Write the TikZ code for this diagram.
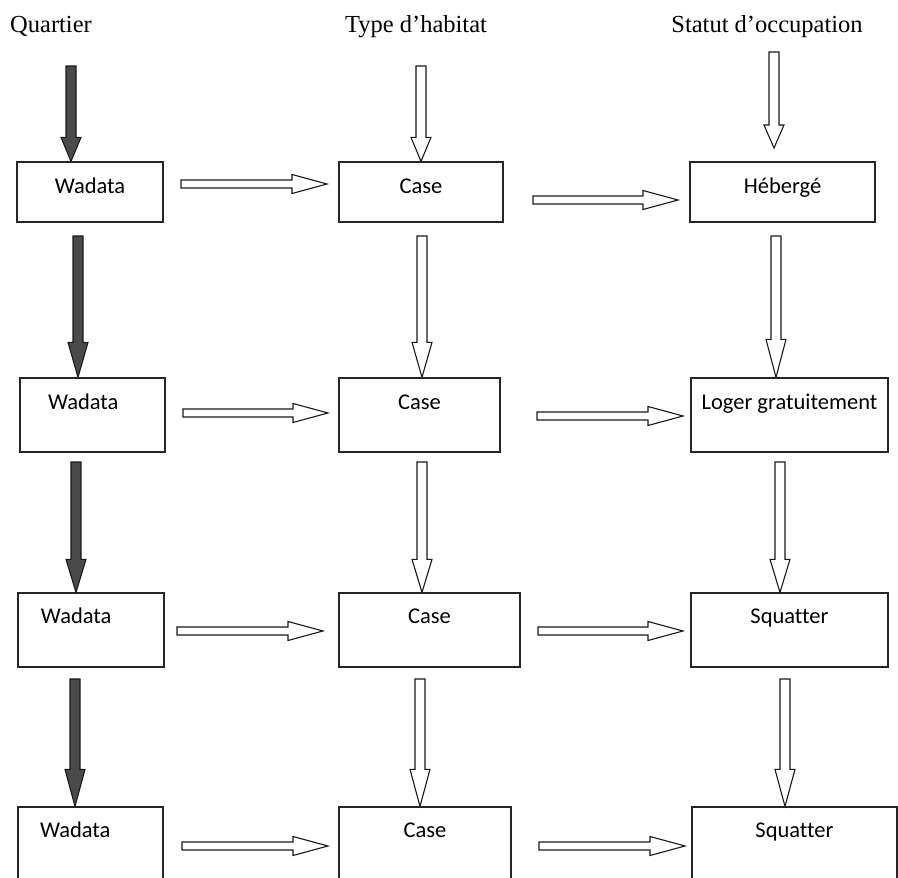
\documentclass[tikz,border=0pt]{standalone}
\usepackage{fontspec}
\setmainfont{Liberation Serif}
\newfontfamily\boxfont[Ligatures=NoCommon]{Carlito}
\usetikzlibrary{calc}
\definecolor{darkfill}{HTML}{4A4A4A}

\begin{document}
\begin{tikzpicture}[x=1pt, y=-1pt,
	box/.style={draw=black!85, line width=1.3pt, inner sep=0pt, font=\boxfont\fontsize{22.5}{27}\selectfont},
	rowa/.style={text height=31pt, text depth=29pt},
	rowb/.style={text height=31pt, text depth=43pt},
	rowc/.style={text height=30pt, text depth=44pt},
	lft/.style={align=left, inner xsep=#1},
	head/.style={font=\fontsize{24.5}{29}\selectfont, anchor=base, inner sep=0pt},
	harrow/.style={draw=black!90, line width=1.1pt, fill=white, line join=miter,
		to path={($(\tikztostart)+(0,-4)$) -- ($(\tikztotarget)+(-35,-4)$) -- ($(\tikztotarget)+(-35,-9.5)$) -- (\tikztotarget)
			-- ($(\tikztotarget)+(-35,9.5)$) -- ($(\tikztotarget)+(-35,4)$) -- ($(\tikztostart)+(0,4)$) -- cycle}},
	varrow/.style={draw=black!90, line width=1.1pt, fill=white, line join=miter,
		to path={($(\tikztostart)+(-5,0)$) -- ($(\tikztotarget)+(-5,-#1)$) -- ($(\tikztotarget)+(-10,-#1)$) -- (\tikztotarget)
			-- ($(\tikztotarget)+(10,-#1)$) -- ($(\tikztotarget)+(5,-#1)$) -- ($(\tikztostart)+(5,0)$) -- cycle}},
	varrow/.default=35,
	dark/.style={fill=darkfill}]
	\useasboundingbox (0,0) rectangle (898,878);
	\clip (0,0) rectangle (898,878);

	% column titles
	\node[head] (quart) at (51,32) {Quartier};
	\node[head] (habit) at (416,32) {Type d’habitat};
	\node[head] (statut) at (767,32) {Statut d’occupation};

	% boxes
	\node[box, rowa, minimum width=146pt] (wad1) at (90,192) {Wadata};
	\node[box, rowa, minimum width=164pt] (cas1) at (421,192) {Case};
	\node[box, rowa, minimum width=185pt] (occ1) at (782.5,192) {Hébergé};

	\node[box, rowb, lft=28pt, text width=89pt] (wad2) at (92.5,415) {Wadata};
	\node[box, rowb, minimum width=161pt] (cas2) at (419.5,415) {Case};
	\node[box, rowb, minimum width=197pt] (occ2) at (789.5,415) {Loger gratuitement};

	\node[box, rowc, lft=23pt, text width=100pt] (wad3) at (91,630) {Wadata};
	\node[box, rowc, minimum width=181pt] (cas3) at (429.5,630) {Case};
	\node[box, rowc, minimum width=197pt] (occ3) at (789.5,630) {Squatter};

	\node[box, rowc, lft=22pt, text width=101pt] (wad4) at (90.5,844) {Wadata};
	\node[box, rowc, minimum width=172pt] (cas4) at (425,844) {Case};
	\node[box, rowc, minimum width=205pt] (occ4) at (794.5,844) {Squatter};

	% arrow ends
	\coordinate (qa1) at (71,66);   \coordinate (ta1) at (421,66);  \coordinate (sa1) at (774,52);
	\coordinate (qa2) at (78,236);  \coordinate (ta2) at (422,236); \coordinate (sa2) at (776,236);
	\coordinate (qa3) at (76,462);  \coordinate (ta3) at (422,462); \coordinate (sa3) at (780,462);
	\coordinate (qa4) at (75,679);  \coordinate (ta4) at (420,679); \coordinate (sa4) at (785,679);
	\coordinate (sb1) at (774,148);

	\coordinate (ha1) at (181,184); \coordinate (hb1) at (327,184);
	\coordinate (ka1) at (533,200); \coordinate (kb1) at (678,200);
	\coordinate (ha2) at (183,413); \coordinate (hb2) at (328,413);
	\coordinate (ka2) at (537,416); \coordinate (kb2) at (683,416);
	\coordinate (ha3) at (177,631); \coordinate (hb3) at (323,631);
	\coordinate (ka3) at (538,631); \coordinate (kb3) at (683,631);
	\coordinate (ha4) at (182,846); \coordinate (hb4) at (328,846);
	\coordinate (ka4) at (539,846); \coordinate (kb4) at (685,846);

	% vertical arrows
	\draw[varrow=24, dark] (qa1) to (qa1 |- wad1.north);
	\draw[varrow=35, dark] (qa2) to (qa2 |- wad2.north);
	\draw[varrow=33, dark] (qa3) to (qa3 |- wad3.north);
	\draw[varrow=37, dark] (qa4) to (qa4 |- wad4.north);

	\draw[varrow=24] (ta1) to (ta1 |- cas1.north);
	\draw[varrow=35] (ta2) to (ta2 |- cas2.north);
	\draw[varrow=33] (ta3) to (ta3 |- cas3.north);
	\draw[varrow=37] (ta4) to (ta4 |- cas4.north);

	\draw[varrow=23] (sa1) to (sb1);
	\draw[varrow=38] (sa2) to (sa2 |- occ2.north);
	\draw[varrow=33] (sa3) to (sa3 |- occ3.north);
	\draw[varrow=37] (sa4) to (sa4 |- occ4.north);

	% horizontal arrows
	\draw[harrow] (ha1) to (hb1);
	\draw[harrow] (ka1) to (kb1);
	\draw[harrow] (ha2) to (hb2);
	\draw[harrow] (ka2) to (kb2);
	\draw[harrow] (ha3) to (hb3);
	\draw[harrow] (ka3) to (kb3);
	\draw[harrow] (ha4) to (hb4);
	\draw[harrow] (ka4) to (kb4);
\end{tikzpicture}
\end{document}
